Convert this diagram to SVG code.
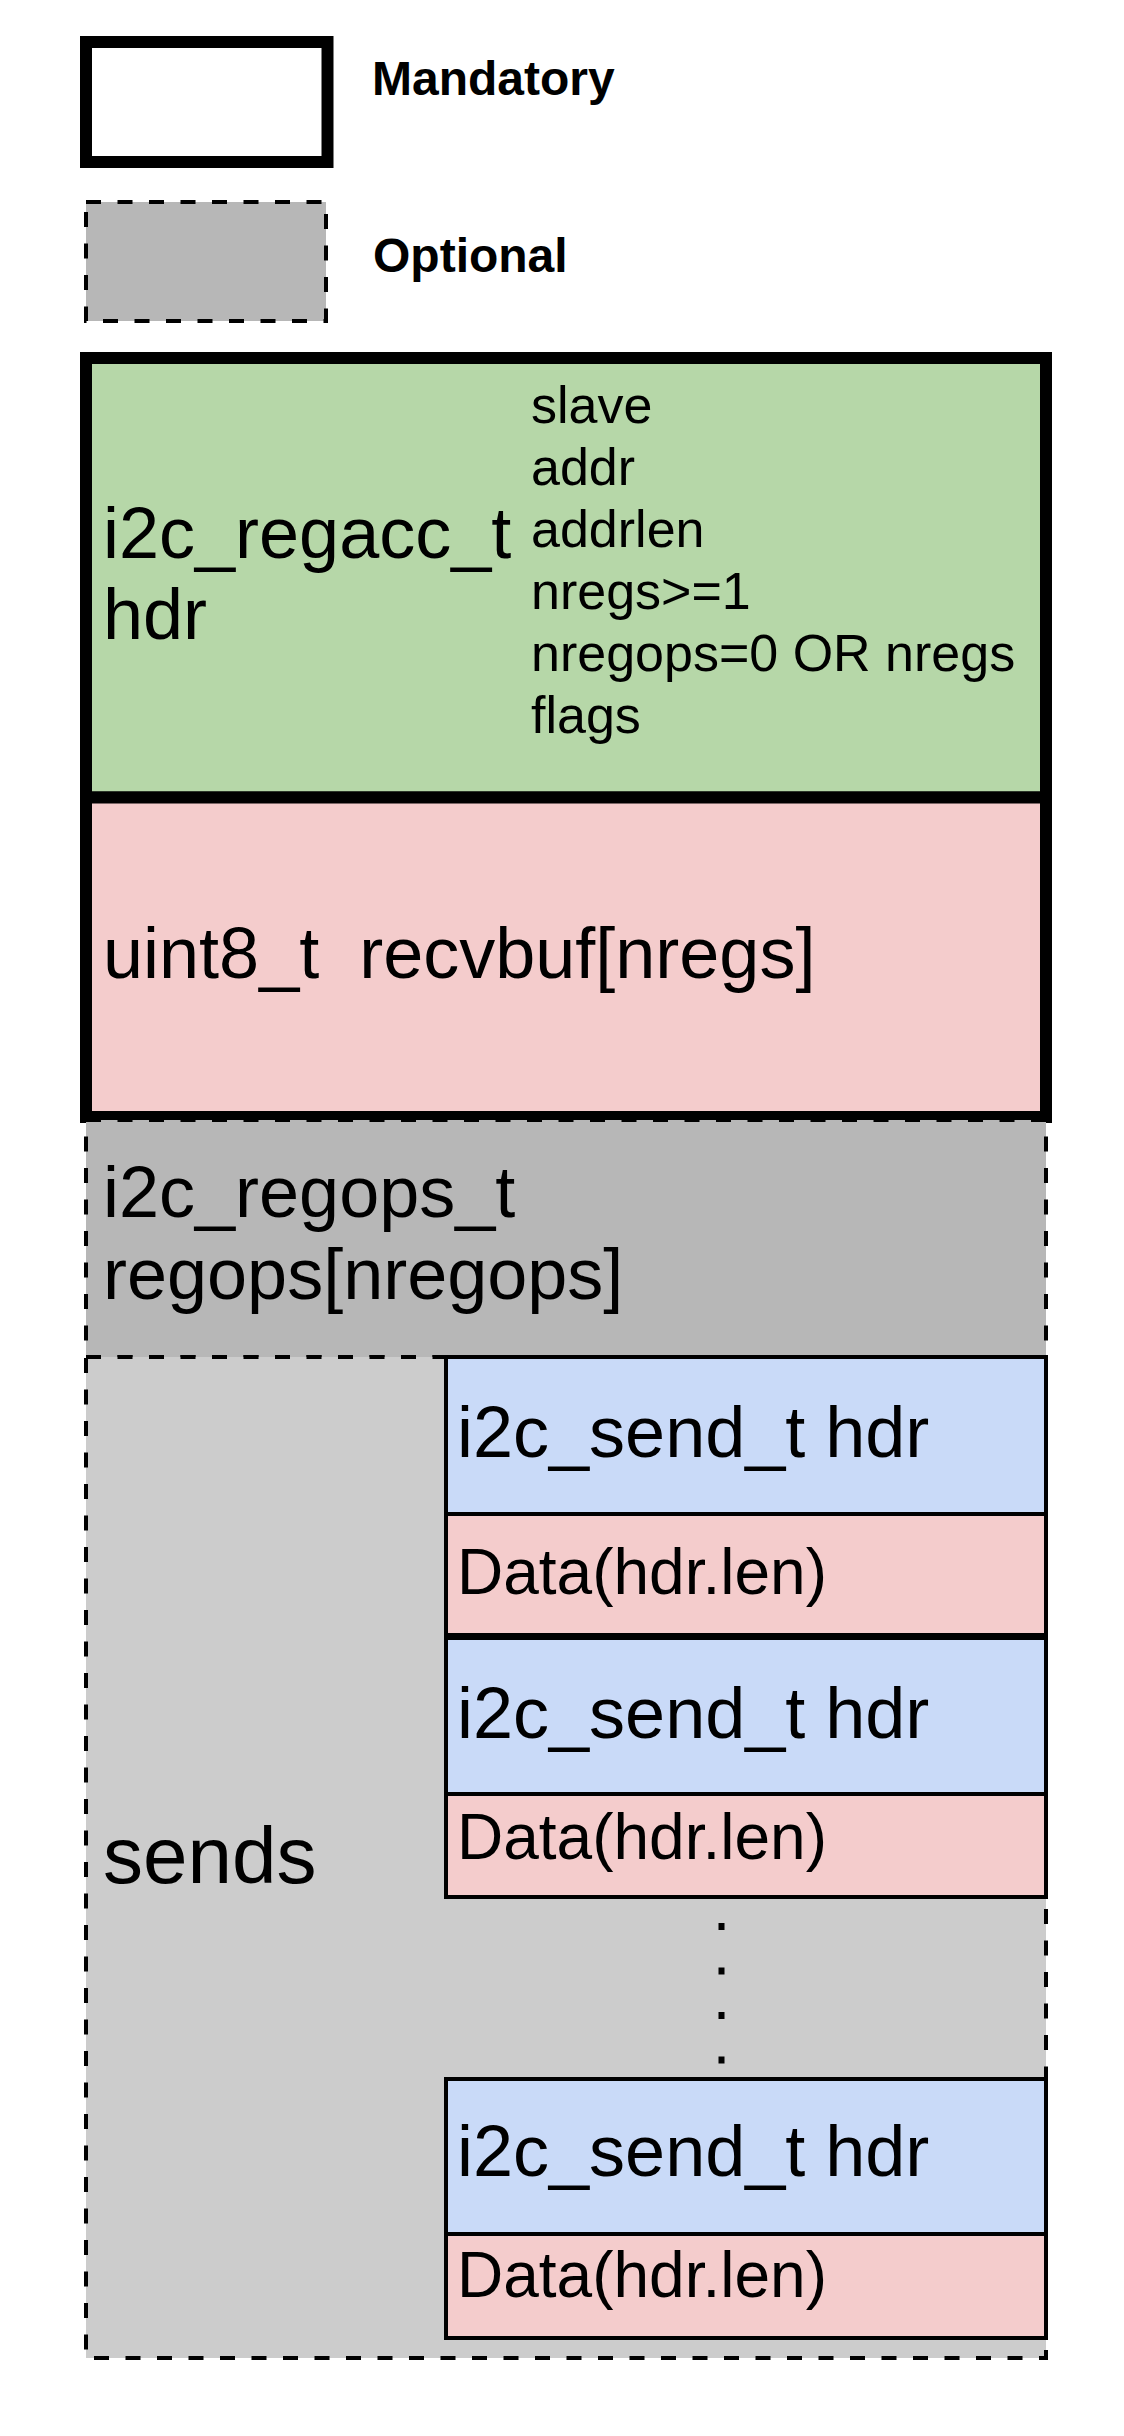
<svg xmlns="http://www.w3.org/2000/svg" width="1124" height="2436" viewBox="0 0 1124 2436">
<style>
text { font-family: "Liberation Sans", Arial, Helvetica, sans-serif; fill: #000000; }
.big { font-size: 72px; }
.side { font-size: 52px; }
.data { font-size: 64px; }
.legend { font-size: 48px; font-weight: bold; }
.mand { stroke: #000000; stroke-width: 12; }
.opt { stroke: #000000; stroke-width: 4; stroke-dasharray: 15 16.5; }
.box { stroke: #000000; stroke-width: 4; }
.green { fill: #b6d7a8; }
.pink { fill: #f4cccc; }
.blue { fill: #c9daf8; }
.gray { fill: #b7b7b7; }
.lgray { fill: #cccccc; }
</style>
<rect x="0" y="0" width="1124" height="2436" fill="#ffffff"/>

<g id="legend-mandatory">
  <rect x="86" y="42" width="241.5" height="120" fill="#ffffff" class="mand"/>
  <text x="372" y="95" class="legend">Mandatory</text>
</g>
<g id="legend-optional">
  <rect x="86" y="202" width="240" height="119" class="gray opt"/>
  <text x="373" y="272" class="legend">Optional</text>
</g>

<g id="hdr">
  <rect x="86" y="358" width="960" height="439.5" class="green mand"/>
  <text x="103" y="558" class="big">i2c_regacc_t</text>
  <text x="103" y="639" class="big">hdr</text>
  <text x="531" y="423" class="side">slave</text>
  <text x="531" y="485" class="side">addr</text>
  <text x="531" y="547" class="side">addrlen</text>
  <text x="531" y="609" class="side">nregs&gt;=1</text>
  <text x="531" y="671" class="side">nregops=0 OR nregs</text>
  <text x="531" y="733" class="side">flags</text>
</g>

<g id="recvbuf">
  <rect x="86" y="797.5" width="960" height="319.5" class="pink mand"/>
  <text x="103" y="978" class="big">uint8_t&#160; recvbuf[nregs]</text>
</g>

<g id="regops">
  <rect x="86" y="1120" width="960" height="237" class="gray opt"/>
  <text x="103" y="1217" class="big">i2c_regops_t</text>
  <text x="103" y="1299" class="big">regops[nregops]</text>
</g>

<g id="sends">
  <rect x="86" y="1357" width="960" height="1001" class="lgray opt"/>
  <text x="103" y="1883" font-size="80">sends</text>
</g>

<g id="send1-hdr">
  <rect x="446" y="1357" width="600" height="157" class="blue box"/>
  <text x="457" y="1457" class="big">i2c_send_t hdr</text>
</g>
<g id="send1-data">
  <rect x="446" y="1514" width="600" height="121" class="pink box"/>
  <text x="457" y="1594" class="data">Data(hdr.len)</text>
</g>
<g id="send2-hdr">
  <rect x="446" y="1638" width="600" height="156" class="blue box"/>
  <text x="457" y="1738" class="big">i2c_send_t hdr</text>
</g>
<g id="send2-data">
  <rect x="446" y="1794" width="600" height="103" class="pink box"/>
  <text x="457" y="1859" class="data">Data(hdr.len)</text>
</g>
<g id="ellipsis">
  <line x1="721.5" y1="1923" x2="721.5" y2="2064" stroke="#000000" stroke-width="6" stroke-dasharray="7 37.5"/>
</g>
<g id="send3-hdr">
  <rect x="446" y="2079" width="600" height="155" class="blue box"/>
  <text x="457" y="2176" class="big">i2c_send_t hdr</text>
</g>
<g id="send3-data">
  <rect x="446" y="2234" width="600" height="104" class="pink box"/>
  <text x="457" y="2297" class="data">Data(hdr.len)</text>
</g>

<g id="connectors"></g>
</svg>
